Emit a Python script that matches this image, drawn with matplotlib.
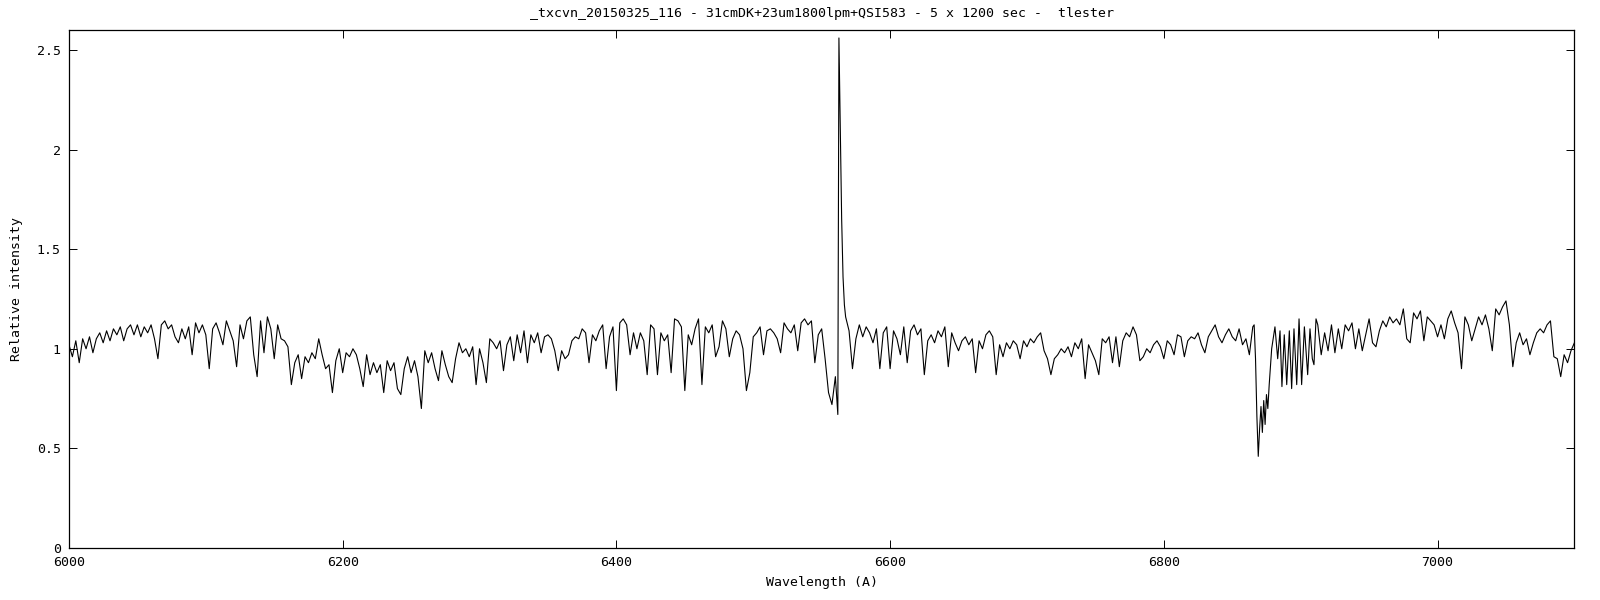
import numpy as np
import matplotlib
matplotlib.use("Agg")
import matplotlib.pyplot as plt

TITLE = "_txcvn_20150325_116 - 31cmDK+23um1800lpm+QSI583 - 5 x 1200 sec -  tlester"

# 6000 .. 6560 A, 2.5 A step
flux_blue = [
    1.02, 0.96, 1.04, 0.93, 1.05, 1.00, 1.06, 0.98, 1.05, 1.08,
    1.03, 1.09, 1.04, 1.10, 1.07, 1.11, 1.04, 1.10, 1.12, 1.07,
    1.12, 1.06, 1.11, 1.08, 1.12, 1.05, 0.95, 1.12, 1.14, 1.10,
    1.12, 1.06, 1.03, 1.10, 1.05, 1.11, 0.97, 1.13, 1.08, 1.12,
    1.07, 0.90, 1.10, 1.13, 1.08, 1.02, 1.14, 1.09, 1.04, 0.91,
    1.12, 1.05, 1.14, 1.16, 0.97, 0.86, 1.14, 0.98, 1.16, 1.10,
    0.95, 1.12, 1.05, 1.04, 1.01, 0.82, 0.93, 0.97, 0.85, 0.96,
    0.93, 0.98, 0.95, 1.05, 0.97, 0.90, 0.92, 0.78, 0.94, 1.00,
    0.88, 0.98, 0.96, 1.00, 0.97, 0.90, 0.81, 0.97, 0.87, 0.93,
    0.88, 0.92, 0.78, 0.94, 0.89, 0.93, 0.80, 0.77, 0.90, 0.96,
    0.88, 0.94, 0.86, 0.70, 0.99, 0.93, 0.98, 0.90, 0.84, 0.99,
    0.92, 0.86, 0.83, 0.95, 1.03, 0.98, 1.00, 0.96, 1.01, 0.82,
    1.00, 0.93, 0.83, 1.05, 1.03, 1.00, 1.04, 0.89, 1.02, 1.06,
    0.94, 1.07, 0.98, 1.09, 0.93, 1.07, 1.03, 1.08, 0.98, 1.06,
    1.07, 1.05, 0.99, 0.89, 0.99, 0.95, 0.97, 1.04, 1.06, 1.05,
    1.10, 1.08, 0.93, 1.07, 1.04, 1.09, 1.12, 0.90, 1.06, 1.11,
    0.79, 1.13, 1.15, 1.12, 0.97, 1.08, 1.00, 1.08, 1.04, 0.87,
    1.12, 1.10, 0.87, 1.08, 1.04, 1.07, 0.88, 1.15, 1.14, 1.11,
    0.79, 1.07, 1.02, 1.10, 1.15, 0.82, 1.11, 1.08, 1.12, 0.96,
    1.01, 1.14, 1.10, 0.96, 1.05, 1.09, 1.07, 1.00, 0.79, 0.88,
    1.06, 1.08, 1.11, 0.97, 1.09, 1.10, 1.08, 1.05, 0.98, 1.13,
    1.10, 1.08, 1.12, 0.99, 1.13, 1.15, 1.12, 1.14, 0.93, 1.07,
    1.10, 0.95, 0.78, 0.72, 0.86,
]

# H-alpha emission
halpha_wl = [6561.8, 6562.6, 6563.6, 6564.6, 6565.6, 6566.6]
halpha_flux = [0.67, 2.56, 2.10, 1.65, 1.36, 1.22]

# 6567.5 .. 6865 A, 2.5 A step
flux_mid = [
    1.16, 1.09, 0.90, 1.05, 1.12, 1.06, 1.11, 1.08, 1.03, 1.10,
    0.90, 1.08, 1.11, 0.90, 1.09, 1.05, 0.97, 1.11, 0.93, 1.09,
    1.12, 1.07, 1.10, 0.87, 1.04, 1.07, 1.03, 1.09, 1.06, 1.11,
    0.91, 1.08, 1.03, 0.99, 1.04, 1.06, 1.02, 1.05, 0.88, 1.04,
    1.00, 1.07, 1.09, 1.06, 0.87, 1.02, 0.96, 1.03, 1.00, 1.04,
    1.02, 0.95, 1.04, 1.01, 1.05, 1.03, 1.06, 1.08, 0.99, 0.95,
    0.87, 0.95, 0.97, 1.00, 0.98, 1.01, 0.96, 1.03, 1.00, 1.05,
    0.85, 1.02, 0.98, 0.94, 0.87, 1.05, 1.03, 1.06, 0.93, 1.06,
    0.91, 1.04, 1.08, 1.06, 1.11, 1.07, 0.94, 0.96, 1.00, 0.98,
    1.02, 1.04, 1.01, 0.95, 1.04, 1.02, 0.97, 1.07, 1.06, 0.96,
    1.04, 1.06, 1.05, 1.08, 1.02, 0.98, 1.06, 1.09, 1.12, 1.06,
    1.03, 1.07, 1.10, 1.06, 1.04, 1.10, 1.02, 1.05, 0.97, 1.11,
]

# telluric B band
bband_wl = [6866, 6867, 6868, 6869, 6870, 6871, 6872, 6873, 6874, 6875,
            6876, 6877, 6878.8, 6881.2, 6883.2, 6884.9, 6886.3, 6888.0,
            6889.8, 6891.7, 6893.4, 6895.1, 6897.1, 6898.8, 6900.7,
            6902.7, 6905.1, 6906.8, 6908.5, 6909.7, 6911.2]
bband_flux = [1.12, 0.95, 0.66, 0.46, 0.60, 0.71, 0.58, 0.74, 0.62, 0.77,
              0.70, 0.82, 1.00, 1.11, 0.95, 1.09, 0.81, 1.07, 0.82, 1.09,
              0.80, 1.10, 0.82, 1.15, 0.82, 1.11, 0.87, 1.10, 0.95, 0.92,
              1.15]

# 6912.5 .. 7100 A, 2.5 A step
flux_red = [
    1.12, 0.97, 1.08, 0.99, 1.12, 0.98, 1.10, 1.00, 1.12, 1.09,
    1.13, 1.00, 1.10, 0.99, 1.07, 1.15, 1.03, 1.01, 1.09, 1.14,
    1.11, 1.16, 1.13, 1.15, 1.12, 1.20, 1.05, 1.03, 1.18, 1.15,
    1.19, 1.04, 1.16, 1.14, 1.12, 1.06, 1.12, 1.05, 1.15, 1.19,
    1.13, 1.08, 0.90, 1.16, 1.12, 1.04, 1.10, 1.16, 1.12, 1.17,
    1.10, 0.99, 1.20, 1.17, 1.21, 1.24, 1.12, 0.91, 1.03, 1.08,
    1.02, 1.05, 0.97, 1.03, 1.08, 1.10, 1.08, 1.12, 1.14, 0.96,
    0.95, 0.86, 0.97, 0.93, 0.99, 1.03,
]

wl_blue = 6000 + 2.5 * np.arange(len(flux_blue))
wl_mid = 6567.5 + 2.5 * np.arange(len(flux_mid))
wl_red = 6912.5 + 2.5 * np.arange(len(flux_red))

wl = np.concatenate([wl_blue, halpha_wl, wl_mid, bband_wl, wl_red])
flux = np.concatenate([flux_blue, halpha_flux, flux_mid, bband_flux, flux_red])

font = "DejaVu Sans Mono"
plt.rcParams['font.family'] = font
plt.rcParams['font.size'] = 9.5

fig = plt.figure(figsize=(16, 6), dpi=100)
ax = fig.add_axes([0.0431, 0.0867, 0.9409, 0.8633])
ax.plot(wl, flux, color='black', lw=0.8)

ax.set_xlim(6000, 7100)
ax.set_ylim(0, 2.6)
ax.set_xticks([6000, 6200, 6400, 6600, 6800, 7000])
ax.set_yticks([0, 0.5, 1, 1.5, 2, 2.5])
ax.set_yticklabels(['0', '0.5', '1', '1.5', '2', '2.5'])
ax.tick_params(direction='in', length=6, width=0.7, top=True, right=True,
               pad=6)
for s in ax.spines.values():
    s.set_linewidth(0.9)

ax.set_title(TITLE, fontsize=9.5, pad=9)
ax.set_xlabel("Wavelength (A)", labelpad=5)
ax.set_ylabel("Relative intensity", labelpad=10)

fig.savefig("out.png", dpi=100)
